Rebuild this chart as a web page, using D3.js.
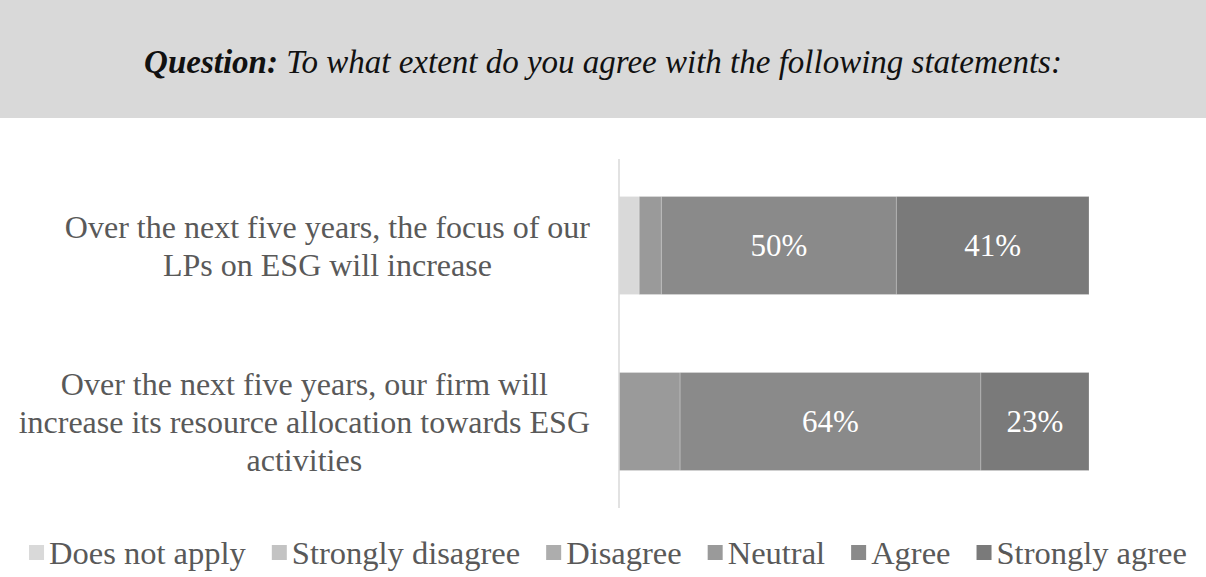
<!DOCTYPE html>
<html>
<head>
<meta charset="utf-8">
<script src="https://cdn.jsdelivr.net/npm/d3@7"></script>
</head>
<body style="margin:0">
<svg id="chart" width="1206" height="577"></svg>
<script>
// Survey responses (% of respondents), one row per statement
const statements = [
  ["Over the next five years, the focus of our", "LPs on ESG will increase"],
  ["Over the next five years, our firm will", "increase its resource allocation towards ESG", "activities"]
];
const responses = ["Does not apply", "Strongly disagree", "Disagree", "Neutral", "Agree", "Strongly agree"];
const doesNotApply     = [4.3, 0];
const stronglyDisagree = [0, 0];
const disagree         = [0, 0];
const neutral          = [4.7, 13];
const agree            = [50, 64];
const stronglyAgree    = [41, 23];
const shades = ["#d9d9d9", "#c3c3c3", "#adadad", "#9a9a9a", "#8a8a8a", "#7a7a7a"];

const series = [doesNotApply, stronglyDisagree, disagree, neutral, agree, stronglyAgree];
const rows = statements.map((s, i) => {
  const r = { key: i };
  responses.forEach((name, j) => { r[name] = series[j][i]; });
  return r;
});

const svg = d3.select("#chart");
const W = 1206, H = 577;
const serif = '"Liberation Serif"';

// Question banner
svg.append("rect").attr("x", 0).attr("y", 0).attr("width", W).attr("height", 118).attr("fill", "#d9d9d9");
const q = svg.append("text").attr("x", W / 2).attr("y", 73).attr("text-anchor", "middle")
  .style("font-family", serif).attr("font-size", 33).attr("font-style", "italic").attr("fill", "#111");
q.append("tspan").attr("font-weight", "bold").text("Question:");
q.append("tspan").text(" To what extent do you agree with the following statements:");

// Plot area
const x0 = 619, x1 = 1089;
const x = d3.scaleLinear().domain([0, 100]).range([x0, x1]);
const y = d3.scaleBand().domain(rows.map(r => r.key)).range([159, 508]).paddingInner(0.443).paddingOuter(0.213);

const stack = d3.stack().keys(responses)(rows);

svg.append("g").selectAll("g").data(stack).join("g")
  .attr("fill", (d, i) => shades[i])
  .selectAll("rect").data(d => d.filter(p => p[1] - p[0] > 0)).join("rect")
  .attr("x", d => x(d[0]))
  .attr("y", d => y(d.data.key))
  .attr("width", d => x(d[1]) - x(d[0]))
  .attr("height", y.bandwidth())
  .attr("stroke", "rgba(255,255,255,0.3)")
  .attr("stroke-width", 0.75);

// Value labels on the larger segments
svg.append("g").selectAll("g").data(stack).join("g")
  .selectAll("text").data(d => d.filter(p => p[1] - p[0] >= 20)).join("text")
  .attr("x", d => (x(d[0]) + x(d[1])) / 2)
  .attr("y", d => y(d.data.key) + y.bandwidth() / 2)
  .attr("dy", "0.35em")
  .attr("text-anchor", "middle")
  .style("font-family", serif)
  .attr("font-size", 31)
  .attr("fill", "#fff")
  .text(d => Math.round(d[1] - d[0]) + "%");

// Category axis line
svg.append("line").attr("x1", x0).attr("x2", x0).attr("y1", 159).attr("y2", 508)
  .attr("stroke", "#d9d9d9").attr("stroke-width", 1.5);

// Statement labels: lines centred within a block that ends left of the axis
const labelRight = 590, lineH = 38;
const labelBlocks = statements.map((lines, i) => {
  const g = svg.append("g");
  const cy = y(i) + y.bandwidth() / 2;
  lines.forEach((t, k) => g.append("text")
    .attr("y", cy + (k - (lines.length - 1) / 2) * lineH)
    .attr("dy", "0.35em")
    .attr("text-anchor", "middle")
    .style("font-family", serif)
    .attr("font-size", 32)
    .attr("fill", "#595959")
    .text(t));
  return g;
});

// Legend
const legend = svg.append("g");
const legendItems = responses.map((name, i) => {
  const g = legend.append("g");
  g.append("rect").attr("width", 15).attr("height", 15).attr("y", -8).attr("fill", shades[i]);
  g.append("text").attr("x", 20).attr("y", 0).attr("dy", "0.33em")
    .style("font-family", serif).attr("font-size", 32.5)
    .attr("fill", "#595959").text(name);
  return g;
});

// Positions that depend on measured text widths
function layout() {
  labelBlocks.forEach(g => {
    const texts = g.selectAll("text");
    const maxW = d3.max(texts.nodes(), t => t.getComputedTextLength());
    texts.attr("x", labelRight - maxW / 2);
  });
  const gap = 26;
  const widths = legendItems.map(g => 20 + g.select("text").node().getComputedTextLength());
  const total = d3.sum(widths) + gap * (widths.length - 1);
  let lx = 608 - total / 2;
  legendItems.forEach((g, i) => { g.attr("transform", `translate(${lx},553)`); lx += widths[i] + gap; });
}
layout();
if (document.fonts && document.fonts.ready) document.fonts.ready.then(layout);
</script>
</body>
</html>
